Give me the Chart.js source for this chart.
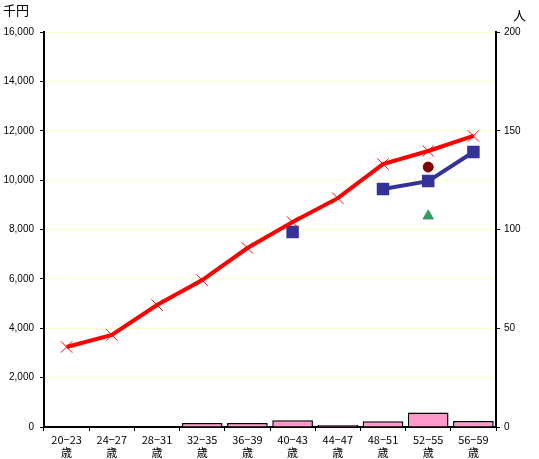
<!DOCTYPE html>
<html>
<head>
<meta charset="utf-8">
<script src="https://cdn.jsdelivr.net/npm/chart.js@4/dist/chart.umd.min.js"></script>
<style>
body{margin:0;background:#fff;}
#wrap{position:relative;width:539px;height:459px;}
.unit{position:absolute;font-family:"Noto Sans CJK JP";font-size:13px;color:#000;}
</style>
</head>
<body>
<div id="wrap">
<canvas id="c" width="539" height="459"></canvas>
<div class="unit" style="left:3px;top:0px;">千円</div>
<div class="unit" style="left:513px;top:5px;">人</div>
</div>
<script>
// age groups
const categories = ["20−23","24−27","28−31","32−35","36−39","40−43","44−47","48−51","52−55","56−59"];
// salary lines (千円)
const redLine = [3240,3730,4940,5950,7250,8300,9270,10650,11180,11790];
const blueLine = [null,null,null,null,null,7900,null,9640,9960,11140];
const circlePt = [null,null,null,null,null,null,null,null,10530,null];
const trianglePt = [null,null,null,null,null,null,null,null,8550,null];
// people (人), right axis
const people = [0,0,0,2,2,3.4,1,2.9,7.4,3];
const leftTicks = [0,2000,4000,6000,8000,10000,12000,14000,16000];
const rightTicks = [0,50,100,150,200];

const font = {family:"'Liberation Sans', Arial", size:10};

new Chart(document.getElementById('c'),{
type:'bar',
data:{
labels:categories.map(c => [c,"歳"]),
datasets:[
{
type:'line',
data:redLine,
borderColor:"#ff0000",
borderWidth:4,
pointStyle:'crossRot',
pointRadius:8,
pointBorderWidth:1,
pointBorderColor:"#ff0000",
yAxisID:'y',
order:1
},
{
type:'line',
data:blueLine,
borderColor:"#333399",
borderWidth:4,
pointStyle:'rect',
pointRadius:6,
pointBackgroundColor:"#333399",
pointBorderColor:"#333399",
spanGaps:false,
yAxisID:'y',
order:2
},
{
type:'line',
data:circlePt,
showLine:false,
pointStyle:'circle',
pointRadius:5,
pointBackgroundColor:"#800000",
pointBorderColor:"#800000",
yAxisID:'y',
order:3
},
{
type:'line',
data:trianglePt,
showLine:false,
pointStyle:'triangle',
pointRadius:6,
pointBackgroundColor:"#339966",
pointBorderColor:"#339966",
yAxisID:'y',
order:4
},
{
type:'bar',
data:people,
backgroundColor:"#ff99cc",
borderColor:"#000",
borderWidth:1.5,
barPercentage:0.9,
categoryPercentage:1,
yAxisID:'y2',
order:10
}
]
},
options:{
responsive:false,
animation:false,
layout:{padding:{top:32,left:0,right:0,bottom:0}},
plugins:{legend:{display:false},tooltip:{enabled:false}},
scales:{
x:{
offset:true,
grid:{display:true,offset:true,drawOnChartArea:false,tickLength:4,color:"#000"},
border:{color:"#000",width:2},
ticks:{color:"#000",font:{family:"'Noto Sans CJK JP'",size:11},maxRotation:0,autoSkip:false,padding:2},
afterFit:s => {s.height = 32;}
},
y:{
position:'left',
min:0,max:16000,
afterBuildTicks:s => {s.ticks = leftTicks.map(v => ({value:v}));},
grid:{color:"#ffffcc",tickLength:4,tickColor:"#000"},
border:{color:"#000",width:2},
ticks:{color:"#000",font:font,padding:6,
callback:v => v.toLocaleString('en-US')},
afterFit:s => {s.width = 44;}
},
y2:{
position:'right',
min:0,max:200,
afterBuildTicks:s => {s.ticks = rightTicks.map(v => ({value:v}));},
grid:{drawOnChartArea:false,tickLength:4,color:"#000"},
border:{color:"#000",width:2},
ticks:{color:"#000",font:font,padding:4},
afterFit:s => {s.width = 43;}
}
}
}
});
</script>
</body>
</html>
